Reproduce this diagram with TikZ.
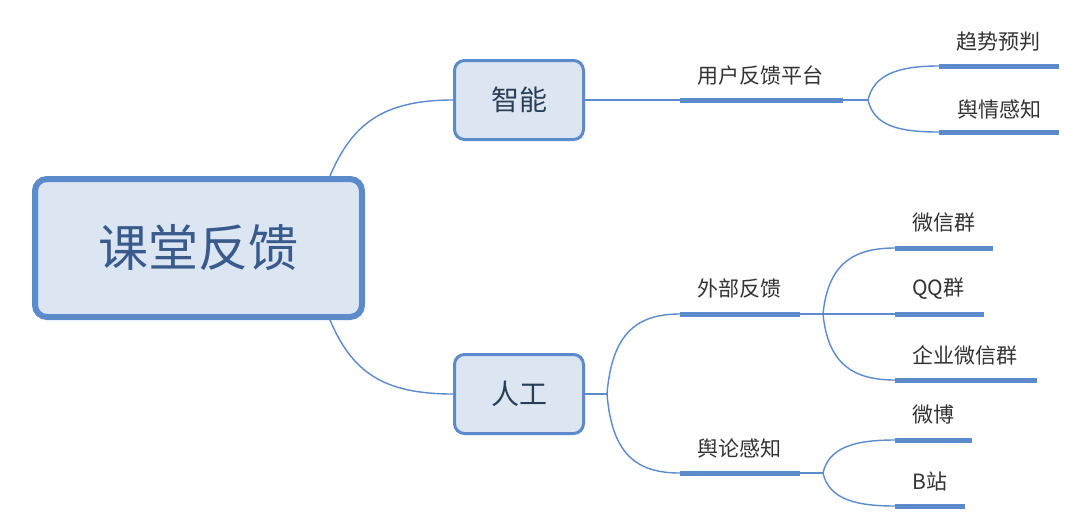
\documentclass[tikz,border=0pt]{standalone}
\usepackage{fontspec}
\newfontfamily\cjk{Noto Sans CJK SC}
\usetikzlibrary{calc}
\definecolor{ln}{HTML}{5B8BCB}
\definecolor{bfill}{HTML}{DCE6F2}
\definecolor{mtext}{HTML}{3A5A8C}
\definecolor{btext}{HTML}{2C3E55}
\definecolor{ltext}{HTML}{333333}
\begin{document}
\begin{tikzpicture}[x=1pt,y=-1pt,
  conn/.style={draw=ln, line width=1.4pt},
  bar/.style={draw=ln, line width=5pt, line cap=butt},
  lab/.style={font=\cjk\fontsize{21}{25}\selectfont, text=ltext, inner sep=0pt},
  box/.style={draw=ln, fill=bfill, line width=3pt, rounded corners=10pt, minimum width=129pt, minimum height=79pt, font=\cjk\fontsize{28}{32}\selectfont, text=btext, inner sep=0pt},
  mainbox/.style={draw=ln, fill=bfill, line width=6pt, rounded corners=12pt, minimum width=327pt, minimum height=138pt, font=\cjk\fontsize{50}{56}\selectfont, text=mtext, inner sep=0pt}]
\useasboundingbox[fill=white] (0,0) rectangle (1080,520);

% connectors from main box
\coordinate (m1) at (330,176);
\coordinate (m2) at (330,320);
\node[box] (zn) at (519,100) {智能};
\node[box] (rg) at (519,394) {人工};
\draw[conn] (m1) .. controls +(22,-52) and +(-70,0) .. (zn.west);
\draw[conn] (m2) .. controls +(22,52) and +(-70,0) .. (rg.west);
\node[mainbox] (main) at (198.5,248) {课堂反馈};

% 智能 branch
\coordinate (j1) at (868,100);
\coordinate (a1) at (680,100); \coordinate (a2) at (843,100);
\draw[conn] (zn.east) -- (j1);
\draw[bar] (a1) -- (a2);
\node[lab] (yh) at (760,76) {用户反馈平台};
\coordinate (q1) at (939,66); \coordinate (q2) at (1059,66);
\coordinate (s1) at (939,132); \coordinate (s2) at (1059,132);
\draw[conn] (j1) .. controls +(6,-26) and +(-40,0) .. (q1);
\draw[conn] (j1) .. controls +(6,26) and +(-40,0) .. (s1);
\draw[bar] (q1) -- (q2);
\draw[bar] (s1) -- (s2);
\node[lab, anchor=west] (qs) at (956,42) {趋势预判};
\node[lab, anchor=west] (yq) at (957,109) {舆情感知};

% 人工 branch
\coordinate (j2) at (607,394);
\draw[conn] (rg.east) -- (j2);
\coordinate (w1) at (680,314); \coordinate (w2) at (800,314); \coordinate (j3) at (823,314);
\coordinate (l1) at (680,473); \coordinate (l2) at (800,473); \coordinate (j4) at (823,473);
\draw[conn] (j2) .. controls +(5,-62) and +(-42,0) .. (w1);
\draw[conn] (j2) .. controls +(5,62) and +(-42,0) .. (l1);
\draw[conn] (w1) -- (j3);
\draw[conn] (l1) -- (j4);
\draw[bar] (w1) -- (w2);
\draw[bar] (l1) -- (l2);
\node[lab] (wb) at (739,289) {外部反馈};
\node[lab] (yl) at (739,448) {舆论感知};

% leaves of 外部反馈
\coordinate (x1) at (895,248); \coordinate (x2) at (993,248);
\coordinate (qq1) at (895,314); \coordinate (qq2) at (984,314);
\coordinate (e1) at (895,380); \coordinate (e2) at (1037,380);
\draw[conn] (j3) .. controls +(5,-50) and +(-42,0) .. (x1);
\draw[conn] (j3) -- (qq1);
\draw[conn] (j3) .. controls +(5,50) and +(-42,0) .. (e1);
\draw[bar] (x1) -- (x2);
\draw[bar] (qq1) -- (qq2);
\draw[bar] (e1) -- (e2);
\node[lab, anchor=west] (wx) at (912,223) {微信群};
\node[lab, anchor=west] (qqq) at (912,289) {QQ群};
\node[lab, anchor=west] (qy) at (912,355) {企业微信群};

% leaves of 舆论感知
\coordinate (b1) at (895,440); \coordinate (b2) at (972,440);
\coordinate (z1) at (895,506); \coordinate (z2) at (965,506);
\draw[conn] (j4) .. controls +(6,-26) and +(-40,0) .. (b1);
\draw[conn] (j4) .. controls +(6,26) and +(-40,0) .. (z1);
\draw[bar] (b1) -- (b2);
\draw[bar] (z1) -- (z2);
\node[lab, anchor=west] (wbo) at (912,415) {微博};
\node[lab, anchor=west] (bz) at (912,481) {B站};
\end{tikzpicture}
\end{document}
